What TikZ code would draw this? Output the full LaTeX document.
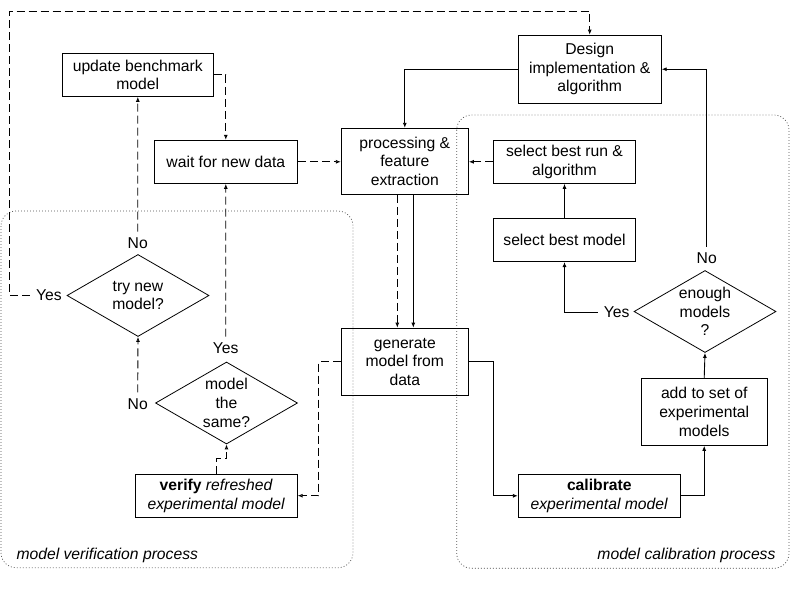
\documentclass[tikz,border=0pt]{standalone}
\usepackage{fontspec}
\setmainfont{Liberation Sans}
\usetikzlibrary{positioning, arrows.meta, shapes.geometric}
\tikzset{
  rect1/.style = {
    shape = rectangle,
    draw = black,
    line width = 1pt,
    align = center,
    inner sep = 2pt,
    minimum height = 43pt,
  }
}
\tikzset{
  diam1/.style = {
    shape = diamond,
    draw = black,
    line width = 0.8pt,
    align = center,
    inner sep = 0pt,
    aspect = 1.73,
    minimum width = 142pt,
    minimum height = 82pt,
  }
}
\tikzset{
  label1/.style = {
    inner sep = 6pt,
  }
}
\tikzset{
  arrow1/.style = {
    draw = black, line width = 0.9pt, -{Latex[length = 5pt, width = 4pt]},
  }
}
\tikzset{
  arrow2/.style = {
    draw = black, line width = 0.9pt, dash pattern = on 8pt off 4pt, -{Latex[open, length = 5pt, width = 4pt]},
  }
}
\tikzset{
  region1/.style = {
    draw = black!70, line width = 0.7pt, dash pattern = on 0.9pt off 2.1pt, rounded corners = 15pt,
  }
}

\begin{document}
\begin{tikzpicture}[x = 1pt, y = -1pt, font = \fontsize{15.7}{18.7}\selectfont]
            \useasboundingbox (0,0) rectangle (800,600);
            % the two process regions
            \draw[region1] (1,211) rectangle (353,567.7);
            \draw[region1] (456.7,115) rectangle (789,568.3);
            \node[anchor = west, font = \fontsize{15.7}{18.7}\selectfont\itshape](r1) at (13,555){model verification process};
            \node[anchor = east, font = \fontsize{15.7}{18.7}\selectfont\itshape](r2) at (779,555){model calibration process};
            % boxes
            \node[rect1, minimum width = 151pt](1) at (137.8,74.8){update benchmark\\model};
            \node[rect1, minimum width = 143pt](2) at (225.8,161.8){wait for new data};
            \node[rect1, minimum width = 127pt, minimum height = 66pt](3) at (404.8,161.3){processing \&\\feature\\extraction};
            \node[rect1, minimum width = 143pt, minimum height = 68pt](4) at (589.7,69.2){Design\\implementation \&\\algorithm};
            \node[rect1, minimum width = 142pt](5) at (564.5,161.8){select best run \&\\algorithm};
            \node[rect1, minimum width = 142pt](6) at (564.5,240){select best model};
            \node[diam1](7) at (138,295.5){try new\\model?};
            \node[diam1](8) at (226.5,403){model\\the\\same?};
            \node[diam1](9) at (705,311.5){enough\\models\\?};
            \node[rect1, minimum width = 127pt, minimum height = 67pt](10) at (404.8,361.7){generate\\model from\\data};
            \node[rect1, minimum width = 162pt](11) at (216.2,495.7){\textbf{verify} \textit{refreshed}\\\textit{experimental model}};
            \node[rect1, minimum width = 126pt, minimum height = 67pt](12) at (704.2,411.8){add to set of\\experimental\\models};
            \node[rect1, minimum width = 162pt](13) at (599.3,495.8){\textbf{calibrate}\\\textit{experimental model}};
            % yes / no
            \node[label1](no1) at (137.7,243.3){No};
            \node[label1](yes1) at (49,295){Yes};
            \node[label1](no2) at (137.7,404){No};
            \node[label1](yes2) at (225.7,348.3){Yes};
            \node[label1](no3) at (706.7,258.3){No};
            \node[label1](yes3) at (616.7,312.3){Yes};
            % connectors
            \coordinate (c1) at (9.3,11);
            \draw[arrow2](yes1.west) -| (c1) -| (4.north);
            \draw[arrow2](no1.north) -- (1.south);
            \draw[arrow2](1.east) -| (2.north);
            \draw[arrow2](2.east) -- (2.east -| 3.west);
            \draw[arrow1](4.west) -| (3.north);
            \draw[arrow2]([xshift = -7.5pt]3.south) -- ([xshift = -7.5pt]10.north);
            \draw[arrow1]([xshift = 8.5pt]3.south) -- ([xshift = 8.5pt]10.north);
            \draw[arrow2](5.west) -- (5.west -| 3.east);
            \draw[arrow1](6.north) -- (5.south);
            \draw[arrow1](yes3.west) -| (6.south);
            \draw[arrow1](no3.north) |- (4.east);
            \draw[arrow1](12.north) -- (9.south);
            \draw[arrow1](13.east) -| (12.south);
            \draw[arrow1](10.east) -- ++(25,0) |- (13.west);
            \draw[arrow2](10.west) -- ++(-22,0) |- (11.east);
            \draw[arrow2](11.north) -- ++(0,-15) -| (8.south);
            \draw[arrow2](yes2.north) -- (2.south);
            \draw[arrow2](no2.north) -- (7.south);
        \end{tikzpicture}
\end{document}
